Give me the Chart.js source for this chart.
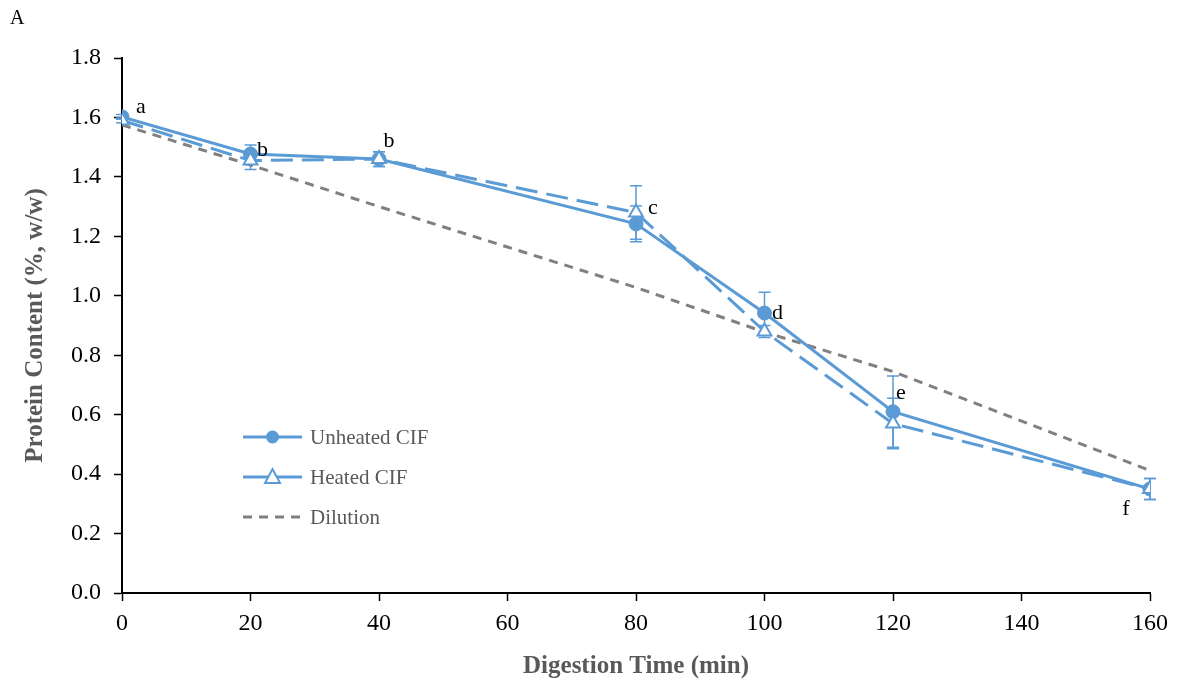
<!DOCTYPE html>
<html>
<head>
<meta charset="utf-8">
<title>Protein Content vs Digestion Time</title>
<script src="https://cdn.jsdelivr.net/npm/chart.js@4.4.0/dist/chart.umd.min.js"></script>
<style>
  html, body { margin:0; padding:0; background:#fff; }
  #wrap { position:relative; width:1180px; height:686px; }
</style>
</head>
<body>
<div id="wrap"><canvas id="c"></canvas></div>
<script>
// digestion times (min)
const times      = [0, 20, 40, 80, 100, 120, 160];
const unheated   = [1.602, 1.477, 1.460, 1.242, 0.942, 0.610, 0.350];
const unheatedSd = [0.008, 0.03, 0.025, 0.06, 0.07, 0.12, 0.035];
const heated     = [1.590, 1.455, 1.460, 1.280, 0.880, 0.570, 0.350];
const heatedSd   = [0.008, 0.03, 0.025, 0.09, 0.02, 0.085, 0.035];
const dilution   = [1.575, 1.440, 1.300, 1.028, 0.878, 0.745, 0.412];
const letters    = ['a', 'b', 'b', 'c', 'd', 'e', 'f'];
const yTicks     = [0, 0.2, 0.4, 0.6, 0.8, 1.0, 1.2, 1.4, 1.6, 1.8];
const xTicks     = [0, 20, 40, 60, 80, 100, 120, 140, 160];

const BLUE = '#5B9BD5', GREY = '#808080', TITLE = '#595959';
const SERIF = '"Liberation Serif", "Times New Roman", serif';

const pts = (ys) => times.map((t, i) => ({ x: t, y: ys[i] }));

// error bars with caps, drawn under the markers
const errorBars = {
  id: 'errorBars',
  beforeDatasetsDraw(chart) {
    const { ctx, scales: { x, y } } = chart;
    ctx.save();
    ctx.strokeStyle = BLUE;
    ctx.lineWidth = 1.5;
    [[unheated, unheatedSd], [heated, heatedSd]].forEach(([vals, sd]) => {
      vals.forEach((v, i) => {
        const px = x.getPixelForValue(times[i]);
        const top = y.getPixelForValue(v + sd[i]);
        const bot = y.getPixelForValue(v - sd[i]);
        ctx.beginPath();
        ctx.moveTo(px, top); ctx.lineTo(px, bot);
        ctx.moveTo(px - 6, top); ctx.lineTo(px + 6, top);
        ctx.moveTo(px - 6, bot); ctx.lineTo(px + 6, bot);
        ctx.stroke();
      });
    });
    ctx.restore();
  }
};

// significance letters next to each time point
const letterOffsets = [[19, -10], [12, -4], [10, -18], [17, -4], [13, 0], [8, -18], [-24, 20]];
const sigLetters = {
  id: 'sigLetters',
  afterDatasetsDraw(chart) {
    const { ctx, scales: { x, y } } = chart;
    ctx.save();
    ctx.font = '22px ' + SERIF;
    ctx.fillStyle = '#000';
    ctx.textAlign = 'center';
    ctx.textBaseline = 'middle';
    letters.forEach((l, i) => {
      const v = Math.max(unheated[i], heated[i]);
      ctx.fillText(l, x.getPixelForValue(times[i]) + letterOffsets[i][0],
                      y.getPixelForValue(v) + letterOffsets[i][1]);
    });
    ctx.restore();
  }
};

// legend inside the plot: line sample with marker, then label
const innerLegend = {
  id: 'innerLegend',
  afterDraw(chart) {
    const { ctx } = chart;
    const x0 = 243, x1 = 302, rowY = [437, 477, 517];
    ctx.save();
    ctx.font = '21px ' + SERIF;
    ctx.textBaseline = 'middle';
    chart.data.datasets.forEach((ds, i) => {
      const yy = rowY[i];
      ctx.strokeStyle = ds.borderColor;
      ctx.lineWidth = ds.borderWidth;
      ctx.setLineDash(i === 2 ? [9, 7] : []);
      ctx.beginPath(); ctx.moveTo(x0, yy); ctx.lineTo(x1, yy); ctx.stroke();
      ctx.setLineDash([]);
      const cx = (x0 + x1) / 2;
      if (i === 0) {
        ctx.fillStyle = BLUE;
        ctx.beginPath(); ctx.arc(cx, yy, 6.5, 0, Math.PI * 2); ctx.fill();
      } else if (i === 1) {
        ctx.fillStyle = '#fff';
        ctx.lineWidth = 2;
        ctx.beginPath();
        ctx.moveTo(cx, yy - 8); ctx.lineTo(cx + 7.5, yy + 6); ctx.lineTo(cx - 7.5, yy + 6);
        ctx.closePath(); ctx.fill(); ctx.stroke();
      }
      ctx.fillStyle = TITLE;
      ctx.fillText(ds.label, 310, yy + 1);
    });
    ctx.restore();
  }
};

const panelLabel = {
  id: 'panelLabel',
  afterDraw(chart) {
    const { ctx } = chart;
    ctx.save();
    ctx.font = '20px ' + SERIF;
    ctx.fillStyle = '#000';
    ctx.textBaseline = 'middle';
    ctx.fillText('A', 10, 19);
    ctx.restore();
  }
};

new Chart(document.getElementById('c'), {
  type: 'line',
  data: {
    datasets: [
      { label: 'Unheated CIF', data: pts(unheated), borderColor: BLUE, backgroundColor: BLUE,
        borderWidth: 3, pointStyle: 'circle', pointRadius: 7, pointBackgroundColor: BLUE,
        pointBorderColor: BLUE, pointBorderWidth: 1, order: 1 },
      { label: 'Heated CIF', data: pts(heated), borderColor: BLUE, backgroundColor: '#fff',
        borderWidth: 3, borderDash: [22, 9], pointStyle: 'triangle', pointRadius: 8,
        pointBackgroundColor: '#fff', pointBorderColor: BLUE, pointBorderWidth: 2, order: 0 },
      { label: 'Dilution', data: pts(dilution), borderColor: GREY, borderWidth: 3,
        borderDash: [9, 7], pointRadius: 0, order: 2 }
    ]
  },
  options: {
    responsive: true, maintainAspectRatio: false, animation: false,
    layout: { padding: { top: 58, right: 30, left: 17, bottom: 0 } },
    plugins: { legend: { display: false }, tooltip: { enabled: false } },
    scales: {
      x: {
        type: 'linear', min: 0, max: 160,
        afterBuildTicks: s => { s.ticks = xTicks.map(v => ({ value: v })); },
        afterFit: s => { s.height = 93; },
        grid: { display: true, drawOnChartArea: false, tickLength: 8, tickColor: '#000', tickWidth: 1.5 },
        border: { color: '#000', width: 2 },
        ticks: { color: '#000', font: { family: SERIF, size: 24 }, padding: 8, maxRotation: 0 },
        title: { display: true, text: 'Digestion Time (min)', color: TITLE,
                 font: { family: SERIF, size: 25, weight: 'bold' }, padding: { top: 12 } }
      },
      y: {
        min: 0, max: 1.8,
        afterBuildTicks: s => { s.ticks = yTicks.map(v => ({ value: v })); },
        afterFit: s => { s.width = 105; },
        grid: { display: true, drawOnChartArea: false, tickLength: 8, tickColor: '#000', tickWidth: 1.5 },
        border: { color: '#000', width: 2 },
        ticks: { color: '#000', font: { family: SERIF, size: 24 }, padding: 13,
                 callback: v => v.toFixed(1) },
        title: { display: true, text: 'Protein Content (%, w/w)', color: TITLE,
                 font: { family: SERIF, size: 25, weight: 'bold' }, padding: { bottom: 10 } }
      }
    }
  },
  plugins: [errorBars, sigLetters, innerLegend, panelLabel]
});
</script>
</body>
</html>
